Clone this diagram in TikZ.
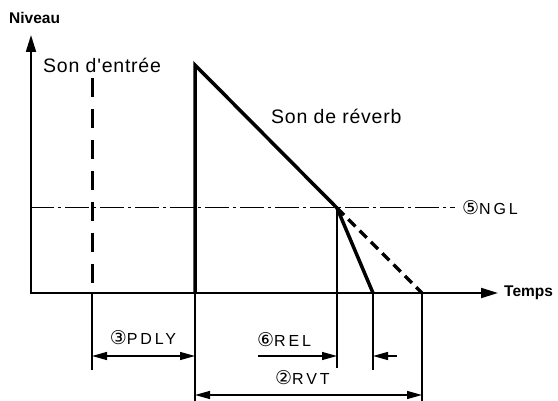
\documentclass[tikz,border=0pt]{standalone}
\usepackage{fontspec}
\setmainfont{Liberation Sans}
\newfontfamily\circfont{DejaVu Sans}
\newfontfamily\spacedfont[LetterSpace=18]{Liberation Sans}
\newfontfamily\lblfont[LetterSpace=4]{Liberation Sans}
\usetikzlibrary{arrows.meta}
\tikzset{
  axis/.style={line width=2pt,-{Triangle[length=17pt,width=10pt]}},
  thickline/.style={line width=3.5pt,line join=miter,line cap=butt},
  thin/.style={line width=1.2pt},
  dim/.style={line width=1.2pt},
  tip/.style={-{Triangle[length=15pt,width=8pt]}},
  bothtip/.style={{Triangle[length=15pt,width=8pt]}-{Triangle[length=15pt,width=8pt]}},
  lbl/.style={font=\fontsize{19.5}{22}\lblfont, inner sep=0pt},
  axlbl/.style={font=\fontsize{15.5}{18}\selectfont\bfseries, inner sep=0pt},
  dimlbl/.style={font=\fontsize{16}{18}\spacedfont, inner sep=0pt}
}
\newcommand{\circnum}[1]{{\fontsize{19}{20}\circfont #1}}
\begin{document}
\begin{tikzpicture}[x=1pt,y=-1pt]
\useasboundingbox (0,0) rectangle (558,401);
% coordinates
\coordinate (O) at (31,293);
\coordinate (Ytop) at (31,35);
\coordinate (Xstart) at (30,293);
\coordinate (Xend) at (498,293);
\coordinate (INtop) at (92,78);
\coordinate (INbot) at (92,293);
\coordinate (R0) at (195,293);
\coordinate (Rpk) at (195,65);
\coordinate (X) at (337,208);
\coordinate (E1) at (373,293);
\coordinate (E2) at (422,293);
\coordinate (Nl) at (30,208);
\coordinate (Nr) at (455,208);
% extension line ends
\coordinate (IN3) at (92,370);
\coordinate (R3) at (195,401);
\coordinate (X3) at (337,368);
\coordinate (E13) at (373,370);
\coordinate (E23) at (422,401);
% dimension arrow points
\coordinate (P1) at (92,356);
\coordinate (P2) at (195,356);
\coordinate (L1) at (258,356);
\coordinate (L2) at (337,356);
\coordinate (L3) at (397,356);
\coordinate (L4) at (373,356);
\coordinate (V1) at (195,395);
\coordinate (V2) at (422,395);

% axes
\draw[axis] (O) -- (Ytop);
\draw[axis] (Xstart) -- (Xend);
% NGL
\draw[line width=1pt, dash pattern=on 24pt off 4pt on 3pt off 4pt] (Nl) -- (Nr);
% input
\draw[line width=3pt, dash pattern=on 19pt off 12pt] (INtop) -- (INbot);
% reverb
\draw[thickline] (R0) -- (Rpk) -- (X) -- (E1);
\draw[line width=3.5pt, dash pattern=on 10pt off 6pt] (X) -- (E2);
% extension lines
\draw[thin] (INbot) -- (IN3);
\draw[thin] (R0) -- (R3);
\draw[thin] (X) -- (X3);
\draw[thin] (E1) -- (E13);
\draw[thin] (E2) -- (E23);
% dimensions
\draw[dim, bothtip] (P1) -- (P2);
\draw[dim, tip] (L1) -- (L2);
\draw[dim, tip] (L3) -- (L4);
\draw[dim, bothtip] (V1) -- (V2);
% labels
\node[axlbl, anchor=west] (niveau) at (9,18) {Niveau};
\node[axlbl, anchor=west] (temps) at (504,293) {Temps};
\node[lbl, anchor=west] (entree) at (43,65) {Son d\symbol{39}entrée};
\node[lbl, anchor=west] (reverb) at (271,116) {Son de réverb};
\node[dimlbl, anchor=west] (ngl) at (462,208) {\circnum{⑤}NGL};
\node[dimlbl] (pdly) at (143,338) {\circnum{③}PDLY};
\node[dimlbl, anchor=west] (rel) at (257,340) {\circnum{⑥}REL};
\node[dimlbl, anchor=west] (rvt) at (275,378) {\circnum{②}RVT};
\end{tikzpicture}
\end{document}
